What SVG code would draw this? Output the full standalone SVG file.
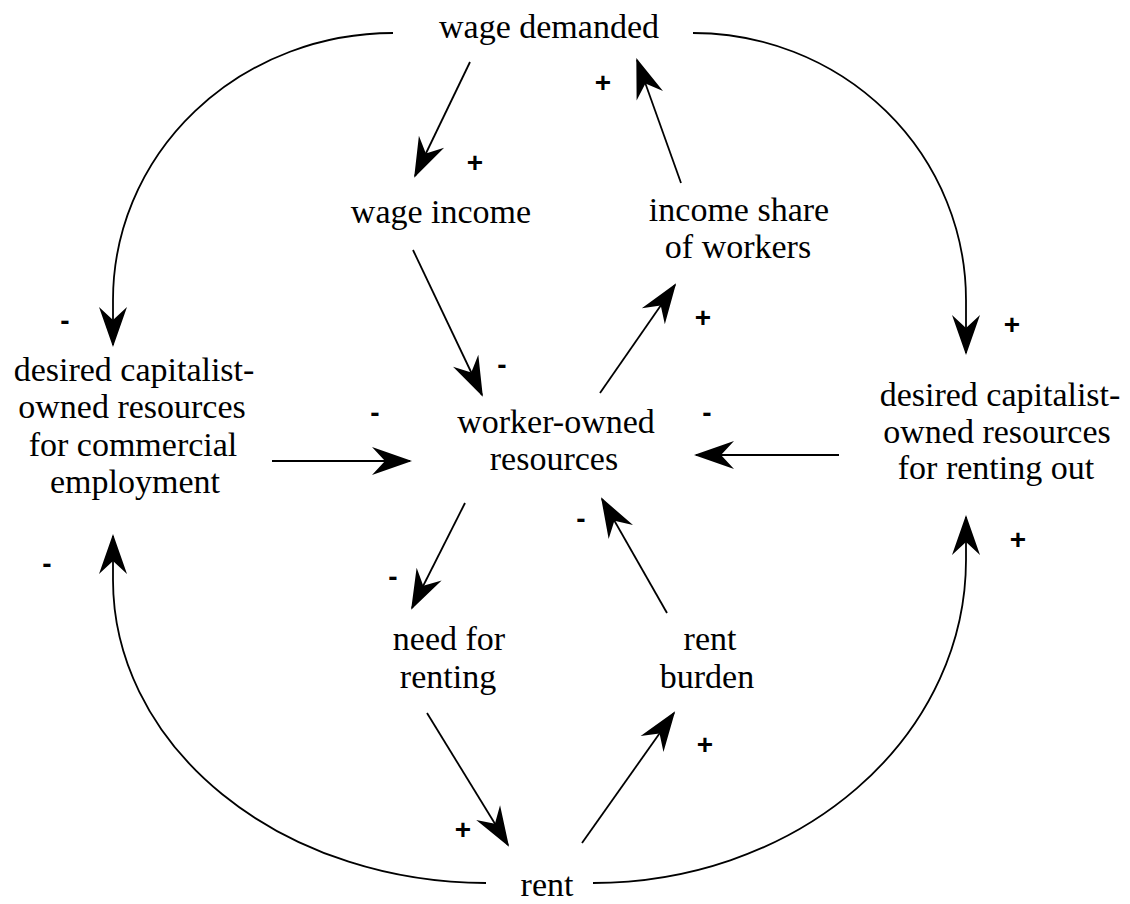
<svg xmlns="http://www.w3.org/2000/svg" width="1130" height="904" viewBox="0 0 1130 904">
<defs>
<marker id="ah" markerUnits="userSpaceOnUse" markerWidth="50" markerHeight="40" viewBox="-45 -20 50 40" refX="0" refY="0" orient="auto">
<path d="M2,0 L-38,-14 L-25,0 L-38,14 Z" fill="#000"/>
</marker>
</defs>
<style>
.lbl{font-family:'Liberation Serif','Times New Roman',Times,'DejaVu Serif','Noto Serif',serif;font-size:34px;fill:#000;text-anchor:middle}
.sg{font-family:'Liberation Sans',Arial,sans-serif;font-size:28px;font-weight:bold;fill:#000;text-anchor:middle}
.c{fill:none;stroke:#000;stroke-width:1.8;marker-end:url(#ah)}
</style>
<rect width="1130" height="904" fill="#fff"/>
<g id="connectors">
<path class="c" d="M393,33 A280,267 0 0 0 113,300 L113,345"/>
<path class="c" d="M693,33 A273,267 0 0 1 966,300 L966,353"/>
<path class="c" d="M486,883 A373,303 0 0 1 113,580 L113,536"/>
<path class="c" d="M593,883 A373,323 0 0 0 966,560 L966,517"/>
<path class="c" d="M470,62 L415,176"/>
<path class="c" d="M681,183 L637,60"/>
<path class="c" d="M413,250 L482,395"/>
<path class="c" d="M600,393 L675,285"/>
<path class="c" d="M272,461 L410,461"/>
<path class="c" d="M839,455 L696,455"/>
<path class="c" d="M465,503 L412,608"/>
<path class="c" d="M667,613 L602,499"/>
<path class="c" d="M427,713 L508,845"/>
<path class="c" d="M582,843 L674,713"/>
</g>
<g id="signs">
<text class="sg" x="603" y="92">+</text>
<text class="sg" x="475" y="172">+</text>
<text class="sg" x="65" y="330">-</text>
<text class="sg" x="1012" y="334">+</text>
<text class="sg" x="502" y="374">-</text>
<text class="sg" x="703" y="327">+</text>
<text class="sg" x="375" y="422">-</text>
<text class="sg" x="707" y="422">-</text>
<text class="sg" x="393" y="586">-</text>
<text class="sg" x="581" y="528">-</text>
<text class="sg" x="47" y="573">-</text>
<text class="sg" x="1018" y="549">+</text>
<text class="sg" x="705" y="754">+</text>
<text class="sg" x="463" y="839">+</text>
</g>
<g id="wage-demanded"><text class="lbl" x="549" y="38">wage demanded</text></g>
<g id="wage-income"><text class="lbl" x="441" y="223">wage income</text></g>
<g id="income-share"><text class="lbl" x="739" y="221">income share</text><text class="lbl" x="738" y="258">of workers</text></g>
<g id="desired-commercial"><text class="lbl" x="134" y="381">desired capitalist-</text><text class="lbl" x="132" y="418">owned resources</text><text class="lbl" x="133" y="456">for commercial</text><text class="lbl" x="135" y="493">employment</text></g>
<g id="worker-owned"><text class="lbl" x="556" y="433">worker-owned</text><text class="lbl" x="554" y="470">resources</text></g>
<g id="desired-renting"><text class="lbl" x="1000" y="406">desired capitalist-</text><text class="lbl" x="997" y="443">owned resources</text><text class="lbl" x="996" y="479">for renting out</text></g>
<g id="need-for-renting"><text class="lbl" x="449" y="650">need for</text><text class="lbl" x="448" y="688">renting</text></g>
<g id="rent-burden"><text class="lbl" x="710" y="650">rent</text><text class="lbl" x="707" y="688">burden</text></g>
<g id="rent"><text class="lbl" x="547" y="896">rent</text></g>
</svg>
